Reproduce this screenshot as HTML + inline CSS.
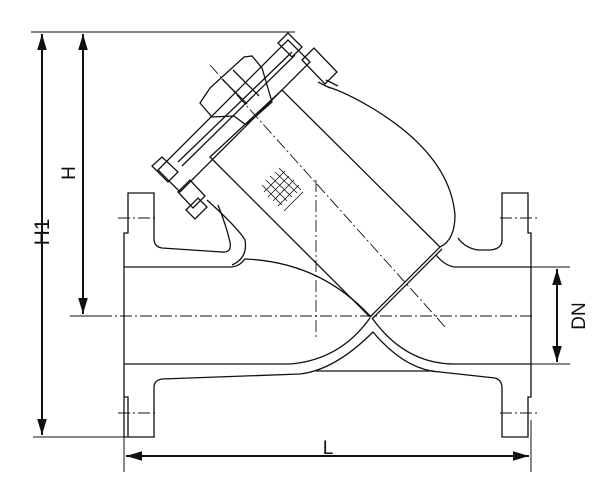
<!DOCTYPE html>
<html><head><style>body{margin:0;background:#fff}svg{display:block}</style></head><body>
<svg width="600" height="504" viewBox="0 0 600 504" xmlns="http://www.w3.org/2000/svg" fill="none" stroke="#111" stroke-width="1.3">
<defs><marker id="a" viewBox="0 0 10 10" refX="10" refY="5" markerWidth="8" markerHeight="8" orient="auto-start-reverse"><path d="M0,2L10,5L0,8z" fill="#111" stroke="none"/></marker></defs>
<line x1="31" y1="32" x2="295" y2="32" stroke-width="1"/>
<line x1="33" y1="437" x2="155" y2="437" stroke-width="1"/>
<line x1="70" y1="316" x2="100" y2="316" stroke-width="1"/>
<line x1="42" y1="34" x2="42" y2="435" stroke-width="2" marker-start="url(#a)" marker-end="url(#a)"/>
<line x1="83" y1="34" x2="83" y2="314" stroke-width="2" marker-start="url(#a)" marker-end="url(#a)"/>
<text x="0" y="0" transform="translate(49,232) rotate(-90)" font-family="Liberation Sans" font-size="21" fill="#111" stroke="none" text-anchor="middle">H1</text>
<text x="0" y="0" transform="translate(75,173) rotate(-90)" font-family="Liberation Sans" font-size="19" fill="#111" stroke="none" text-anchor="middle">H</text>
<line x1="124" y1="420" x2="124" y2="472" stroke-width="1"/>
<line x1="531" y1="420" x2="531" y2="472" stroke-width="1"/>
<line x1="126" y1="456" x2="529" y2="456" stroke-width="2" marker-start="url(#a)" marker-end="url(#a)"/>
<text x="328" y="454" font-family="Liberation Sans" font-size="19" fill="#111" stroke="none" text-anchor="middle">L</text>
<line x1="455" y1="267" x2="570" y2="267" stroke-width="1"/>
<line x1="455" y1="364" x2="570" y2="364" stroke-width="1"/>
<line x1="557" y1="269" x2="557" y2="362" stroke-width="2" marker-start="url(#a)" marker-end="url(#a)"/>
<text x="0" y="0" transform="translate(585,316) rotate(-90)" font-family="Liberation Sans" font-size="19" fill="#111" stroke="none" text-anchor="middle">DN</text>
<g stroke-width="0.9" stroke-dasharray="12,3,2,3">
<line x1="100" y1="316" x2="532" y2="316"/>
<line x1="316" y1="180" x2="316" y2="340"/>
<line x1="210" y1="65" x2="446" y2="328"/>
<line x1="118" y1="218" x2="158" y2="218"/><line x1="118" y1="413" x2="158" y2="413"/>
<line x1="500" y1="218" x2="540" y2="218"/><line x1="500" y1="413" x2="540" y2="413"/>
</g>
<path d="M124,437 V233 H128 V193 H154 V240 Q155,247 162,248 L222,252 Q232,253 230,242 Q226,225 218,205"/>
<path d="M207,200 Q238,228 245,240 Q248,258 232,265"/>
<line x1="124" y1="267" x2="232" y2="267"/>
<path d="M232,267 Q240,266 245,259 Q320,262 370,316"/>
<line x1="124" y1="364" x2="290" y2="364"/>
<path d="M290,364 Q340,360 370,318"/>
<path d="M124,437 H154 V386 Q155,380 162,379 L300,374 Q335,370 373,332 Q405,370 440,372 L495,378 Q502,380 502,388 V437 H528 V397 H531 V233 H528 V193 H502 V240 Q502,249 490,250 L478,250 Q465,248 458,238"/>
<path d="M128,437 V397 H124"/>
<line x1="316" y1="371" x2="434" y2="371"/>
<path d="M455,364 Q405,364 372,318"/>
<line x1="531" y1="267" x2="455" y2="267"/>
<path d="M455,267 Q445,266 436,255"/>
<line x1="531" y1="364" x2="455" y2="364"/>
<path d="M328,87 Q345,92 372,108 Q450,155 455,215 Q455,240 440,247"/>
<path d="M326,80 L338,86"/>
<polygon points="210,157 282,90 440,247 370,317"/>
<line x1="372" y1="319" x2="442" y2="249"/>
<polygon points="158,170 288,40 310,62 180,192"/>
<line x1="178" y1="162" x2="292" y2="52"/>
<line x1="182" y1="166" x2="295" y2="55"/>
<polygon points="200,103 210,88 244,57 252,56 262,68 272,102 246,125 234,116 212,117"/>
<line x1="222" y1="79" x2="247" y2="104"/>
<line x1="233" y1="70" x2="259" y2="96"/>
<polygon points="152,166 162,157 178,172 168,182"/>
<polygon points="178,192 190,180 205,196 193,208"/>
<polygon points="186,210 198,198 207,207 195,219"/>
<polygon points="278,43 288,33 302,47 292,57"/>
<polygon points="302,60 314,48 337,72 325,84"/>
<path d="M318,82 L330,88"/>
<g stroke-width="0.8">
<path d="M262,185 L282,205 M266,180 L287,201 M270,176 L292,197 M275,172 L297,193 M279,168 L301,190"/>
<path d="M264,192 L285,171 M268,197 L289,176 M273,201 L294,180 M278,206 L299,185 M284,211 L303,192"/>
</g>
</svg>
</body></html>
